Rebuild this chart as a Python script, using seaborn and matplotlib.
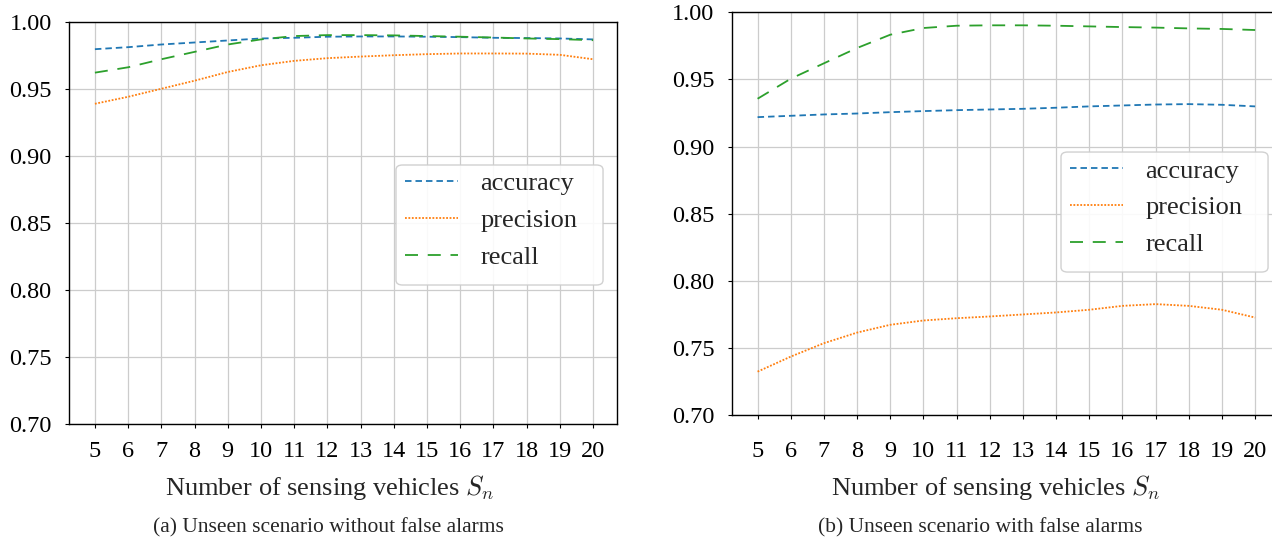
import matplotlib
matplotlib.use("Agg")
import matplotlib.pyplot as plt
from matplotlib.patches import FancyBboxPatch
import seaborn as sns
import pandas as pd

# ---------------- data ----------------
sensing_vehicles = list(range(5, 21))

acc_a = [0.9795, 0.9810, 0.9830, 0.9845, 0.9860, 0.9875, 0.9880, 0.9888,
         0.9890, 0.9890, 0.9888, 0.9885, 0.9880, 0.9878, 0.9875, 0.9868]
prec_a = [0.9388, 0.9440, 0.9500, 0.9560, 0.9625, 0.9675, 0.9708, 0.9728,
          0.9740, 0.9750, 0.9758, 0.9763, 0.9763, 0.9762, 0.9753, 0.9720]
rec_a = [0.9620, 0.9660, 0.9720, 0.9775, 0.9830, 0.9868, 0.9893, 0.9900,
         0.9900, 0.9898, 0.9893, 0.9888, 0.9882, 0.9875, 0.9870, 0.9862]

acc_b = [0.9219, 0.9229, 0.9239, 0.9246, 0.9256, 0.9264, 0.9271, 0.9276,
         0.9281, 0.9289, 0.9299, 0.9306, 0.9313, 0.9316, 0.9311, 0.9299]
prec_b = [0.7323, 0.7435, 0.7535, 0.7614, 0.7672, 0.7704, 0.7721, 0.7734,
          0.7749, 0.7764, 0.7784, 0.7813, 0.7826, 0.7813, 0.7784, 0.7726]
rec_b = [0.9356, 0.9505, 0.9620, 0.9734, 0.9833, 0.9883, 0.9900, 0.9903,
         0.9903, 0.9900, 0.9895, 0.9890, 0.9886, 0.9880, 0.9876, 0.9868]

metric_names = ["accuracy", "precision", "recall"]
y_ticks = [0.70, 0.75, 0.80, 0.85, 0.90, 0.95, 1.00]
x_label = "Number of sensing vehicles $S_n$"
captions = ["(a) Unseen scenario without false alarms",
            "(b) Unseen scenario with false alarms"]

# ---------------- style ----------------
sns.set_style("whitegrid", {"axes.edgecolor": "black", "grid.color": "#cccccc",
                            "xtick.bottom": True, "ytick.left": True})
plt.rcParams["font.family"] = ["Liberation Serif", "DejaVu Serif"]
plt.rcParams["mathtext.fontset"] = "cm"

colors = ["#1f77b4", "#ff7f0e", "#2ca02c"]
styles = [(0, (3.6, 2.2)), (0, (1.0, 0.9)), (0, (7.2, 5.4))]
LW = 1.3
TICK_FS = 17.5
LEG_FS = 19
LABEL_FS = 19
CAP_FS = 15.5

fig = plt.figure(figsize=(12.72, 5.40), dpi=100)
W, H = 1272.0, 540.0

def px_axes(l, t, r, b):
    return fig.add_axes([l / W, 1 - b / H, (r - l) / W, (b - t) / H])

ax_a = px_axes(69, 21.7, 617, 424)
ax_b = px_axes(731.7, 12.3, 1279, 415)

# (axes, series, legend box (x0, y0, x1, y1) in axes fraction, x tick pad)
panels = [
    (ax_a, [acc_a, prec_a, rec_a], (0.5967, 0.3455, 0.9745, 0.6438), 9.0),
    (ax_b, [acc_b, prec_b, rec_b], (0.6017, 0.3550, 0.9800, 0.6530), 15.5),
]

for ax, series, box, xpad in panels:
    for name, vals, c, ls in zip(metric_names, series, colors, styles):
        df = pd.DataFrame({"n": sensing_vehicles, "v": vals})
        sns.lineplot(data=df, x="n", y="v", ax=ax, color=c, linestyle=ls,
                     linewidth=LW, label=name)
    ax.set_xlim(4.22, 20.72)
    ax.set_ylim(0.70, 1.00)
    ax.set_xticks(sensing_vehicles)
    ax.set_yticks(y_ticks)
    ax.set_yticklabels([f"{t:.2f}" for t in y_ticks])
    ax.set_xlabel("")
    ax.set_ylabel("")
    ax.tick_params(axis="both", labelsize=TICK_FS, length=3, width=0.8,
                   color="black", labelcolor="black")
    ax.tick_params(axis="y", pad=9.5)
    ax.tick_params(axis="x", pad=xpad)
    ax.grid(True, color="#cccccc", linewidth=0.9)
    for sp in ax.spines.values():
        sp.set_color("black")
        sp.set_linewidth(1.0)

    # legend frame drawn as a rounded box
    x0, y0, x1, y1 = box
    frame = FancyBboxPatch((x0, y0), x1 - x0, y1 - y0,
                           boxstyle="round,pad=0,rounding_size=0.012",
                           transform=ax.transAxes, facecolor="white",
                           edgecolor="#cccccc", linewidth=1.0, alpha=0.9,
                           zorder=4, clip_on=False)
    ax.add_patch(frame)
    ax_w_px = ax.get_position().width * W
    ax_h_px = ax.get_position().height * H
    leg = ax.legend(loc="upper left",
                    bbox_to_anchor=(x0 + 9 / ax_w_px, y1 - 7 / ax_h_px),
                    borderaxespad=0, borderpad=0, frameon=False,
                    fontsize=LEG_FS, handlelength=2.0, handletextpad=0.85,
                    labelspacing=0.5)
    leg.set_zorder(5)

fig.text(330 / W, 1 - 487 / H, x_label, ha="center", va="center", fontsize=LABEL_FS)
fig.text(996 / W, 1 - 487 / H, x_label, ha="center", va="center", fontsize=LABEL_FS)
fig.text(328 / W, 1 - 528 / H, captions[0], ha="center", va="center", fontsize=CAP_FS)
fig.text(980 / W, 1 - 528 / H, captions[1], ha="center", va="center", fontsize=CAP_FS)

fig.savefig("out.png", dpi=100)
